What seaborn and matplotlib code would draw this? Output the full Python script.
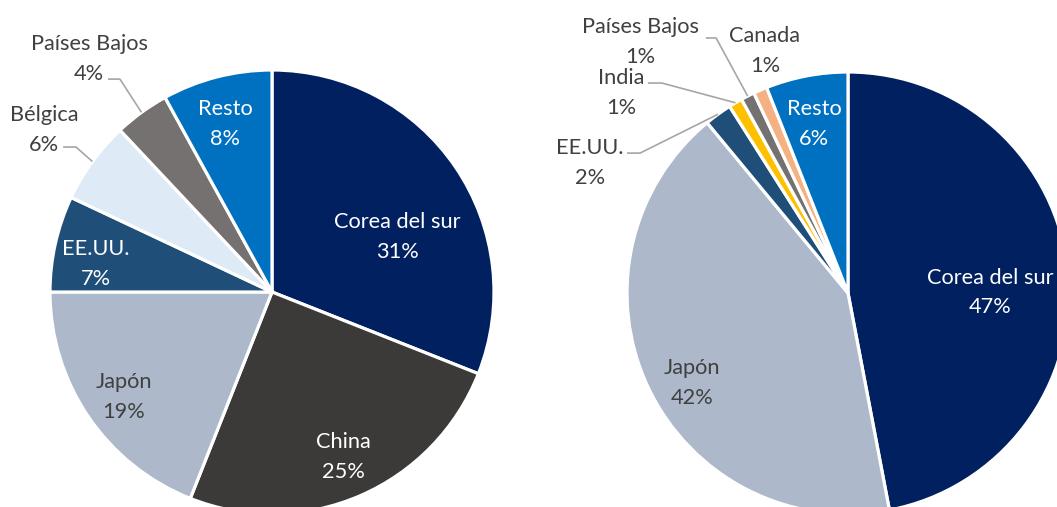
import matplotlib
matplotlib.use("Agg")
import matplotlib.pyplot as plt
import seaborn as sns
import numpy as np

# ---------------- data ----------------
left_labels = ["Corea del sur", "China", "Japón", "EE.UU.", "Bélgica", "Países Bajos", "Resto"]
left_values = [31, 25, 19, 7, 6, 4, 8]

right_labels = ["Corea del sur", "Japón", "EE.UU.", "India", "Países Bajos", "Canada", "Resto"]
right_values = [47, 42, 2, 1, 1, 1, 6]

# ---------------- style ----------------
COL = {
    "Corea del sur": "#002060",
    "China": "#3B3A38",
    "Japón": "#ADB9CA",
    "EE.UU.": "#1F4E79",
    "Bélgica": "#DEEBF7",
    "Países Bajos": "#767171",
    "Resto": "#0070C0",
    "India": "#FFC000",
    "Canada": "#F4B183",
}
WHITE_TXT = {"Corea del sur", "China", "EE.UU.", "Resto"}
DARK = "#404040"

# label positions (in pie-radius units, relative to centre) and leader geometry
left_label_pos = {
    "Corea del sur": (0.563, 0.257), "China": (0.320, -0.734), "Japón": (-0.667, -0.464),
    "EE.UU.": (-0.793, 0.135), "Bélgica": (-1.027, 0.739), "Países Bajos": (-0.824, 1.059),
    "Resto": (-0.212, 0.766),
}
left_leaders = {"Bélgica": [(-0.941, 0.653), (-0.883, 0.653)],
                "Países Bajos": [(-0.739, 0.959), (-0.685, 0.959)]}
left_outside = {"Bélgica", "Países Bajos"}

right_label_pos = {
    "Corea del sur": (0.643, 0.010), "Japón": (-0.706, -0.398), "EE.UU.": (-1.167, 0.597),
    "India": (-1.027, 0.914), "Países Bajos": (-0.941, 1.145), "Canada": (-0.376, 1.104),
    "Resto": (-0.154, 0.774),
}
right_leaders = {"EE.UU.": [(-1.0, 0.633), (-0.941, 0.633)],
                 "India": [(-0.905, 0.950), (-0.842, 0.950)],
                 "Países Bajos": [(-0.643, 1.154), (-0.597, 1.154)]}
right_outside = {"EE.UU.", "India", "Países Bajos", "Canada"}

sns.set_theme(style="white")
plt.rcParams["font.family"] = ["Lato", "DejaVu Sans"]

W, H = 1057, 507
fig = plt.figure(figsize=(W / 100, H / 100), dpi=100)
ax = fig.add_axes([0, 0, 1, 1])
ax.set_xlim(0, W)
ax.set_ylim(0, H)
ax.set_aspect("equal")
ax.axis("off")


def draw_pie(labels, values, center, radius, label_pos, leaders, outside):
    colors = [COL[l] for l in labels]
    wedges, _ = ax.pie(values, colors=colors, startangle=90, counterclock=False,
                       center=center, radius=radius,
                       wedgeprops=dict(edgecolor="white", linewidth=2.3))
    total = float(sum(values))
    cum = 0.0
    for lab, v, w in zip(labels, values, wedges):
        mid = 90 - 360 * (cum + v / 2) / total
        cum += v
        px, py = label_pos[lab]
        tx, ty = center[0] + px * radius, center[1] + py * radius - 2
        color = "white" if (lab in WHITE_TXT and lab not in outside) else DARK
        ax.text(tx, ty, f"{lab}\n{v}%", ha="center", va="center", fontsize=15.7,
                color=color, linespacing=1.58)
        if lab in leaders:
            pts = [(center[0] + a * radius, center[1] + b * radius) for a, b in leaders[lab]]
            ex = center[0] + radius * np.cos(np.radians(mid))
            ey = center[1] + radius * np.sin(np.radians(mid))
            pts.append((ex, ey))
            xs, ys = zip(*pts)
            ax.plot(xs, ys, color="#A6A6A6", lw=1.2, solid_capstyle="butt")


draw_pie(left_labels, left_values, (272, H - 292), 222, left_label_pos, left_leaders, left_outside)
draw_pie(right_labels, right_values, (848, H - 293), 221, right_label_pos, right_leaders, right_outside)

ax.set_xlim(0, W)
ax.set_ylim(0, H)
fig.savefig("out.png", dpi=100)
